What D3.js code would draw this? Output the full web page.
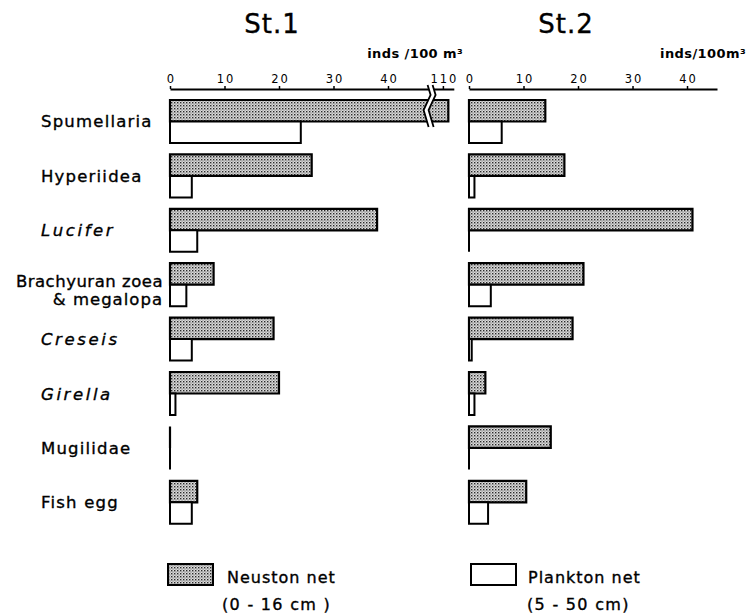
<!DOCTYPE html>
<html>
<head>
<meta charset="utf-8">
<script src="https://cdn.jsdelivr.net/npm/d3@7"></script>
<style>
  html, body { margin: 0; padding: 0; background: #fff; }
  svg { display: block; }
  text { font-family: "DejaVu Sans", sans-serif; fill: #000; }
  text.heavy { stroke: #000; stroke-width: 0.35px; }
</style>
</head>
<body>
<div id="chart"></div>
<script>
// ---- data ----
const categories = ["Spumellaria", "Hyperiidea", "Lucifer", "Brachyuran zoea & megalopa", "Creseis", "Girella", "Mugilidae", "Fish egg"];
const italicCategories = ["Lucifer", "Creseis", "Girella"];
const st1Neuston  = [111, 26, 38, 8, 19, 20, 0, 5];
const st1Plankton = [24, 4, 5, 3, 4, 1, 0, 4];
const st2Neuston  = [14, 17.5, 41, 21, 19, 3, 15, 10.5];
const st2Plankton = [6, 1, 0, 4, 0.5, 1, 0, 3.5];
const st1Ticks = [0, 10, 20, 30, 40, 110];
const st2Ticks = [0, 10, 20, 30, 40];
const seriesNames = ["Neuston net", "Plankton net"];
const seriesDepths = ["(0 - 16 cm )", "(5 - 50 cm)"];

// ---- layout ----
const W = 749, H = 615;
const svg = d3.select("#chart").append("svg").attr("width", W).attr("height", H);

const defs = svg.append("defs");
const pat = defs.append("pattern").attr("id", "stipple")
  .attr("patternUnits", "userSpaceOnUse").attr("width", 3).attr("height", 3);
pat.append("rect").attr("width", 3).attr("height", 3).attr("fill", "#dcdcdc");
pat.append("rect").attr("x", 0).attr("y", 0).attr("width", 1.4).attr("height", 1.4).attr("fill", "#2a2a2a");
pat.append("rect").attr("x", 1.5).attr("y", 1.5).attr("width", 1.1).attr("height", 1.1).attr("fill", "#6a6a6a");

const y = d3.scaleBand().domain(categories).range([100, 100 + 8 * 54.4 - 11.4]).paddingInner(0.21).paddingOuter(0);
const sub = d3.scaleBand().domain(["neuston", "plankton"]).range([0, y.bandwidth()]);

// broken axis for St.1
const x1 = d3.scaleLinear().domain([0, 48, 108, 112]).range([170, 431.6, 432, 453.8]);
const x2 = d3.scaleLinear().domain([0, 45.5]).range([469, 717]);

const axisY = 89;
const panels = [
  { title: "St.1", titleX: 272, x: x1, neuston: st1Neuston, plankton: st1Plankton, ticks: st1Ticks, unit: "inds /100 m³", unitX: 463, brk: 48 },
  { title: "St.2", titleX: 566, x: x2, neuston: st2Neuston, plankton: st2Plankton, ticks: st2Ticks, unit: "inds/100m³", unitX: 746, brk: null }
];

function barPath(x0, x1v, y0, h) {
  return `M${x0},${y0}H${x1v}V${y0 + h}H${x0}Z`;
}

panels.forEach(p => {
  const g = svg.append("g");
  g.append("text").attr("class", "heavy").attr("x", p.titleX).attr("y", 33).attr("text-anchor", "middle")
    .style("font-size", "26px").style("letter-spacing", "1px").text(p.title);
  g.append("text").attr("x", p.unitX).attr("y", 58).attr("text-anchor", "end")
    .style("font-size", "13px").style("font-weight", "bold").style("letter-spacing", "0.4px").text(p.unit);

  const ax = g.append("g").attr("transform", `translate(0,${axisY})`)
    .call(d3.axisTop(p.x).tickValues(p.ticks).tickSize(3).tickSizeOuter(0).tickPadding(3).tickFormat(d3.format("d")));
  ax.attr("font-family", null).attr("font-size", null);
  ax.select(".domain").attr("stroke", "#000").attr("stroke-width", 2);
  ax.selectAll(".tick line").attr("stroke", "#000").attr("stroke-width", 1.5);
  ax.selectAll(".tick text").style("font-size", "11.5px").style("letter-spacing", "2px").attr("dx", "1px");

  // bars
  const rows = categories.map((c, i) => ({ c, n: p.neuston[i], pl: p.plankton[i] }));
  const x0 = p.x(0);
  g.selectAll("path.neu").data(rows).join("path").attr("class", "neu")
    .attr("d", d => barPath(x0, p.x(d.n), y(d.c) + sub("neuston"), sub.bandwidth()))
    .attr("fill", "url(#stipple)").attr("stroke", "#000").attr("stroke-width", 2.2);
  g.selectAll("path.pla").data(rows).join("path").attr("class", "pla")
    .attr("d", d => barPath(x0, p.x(d.pl), y(d.c) + sub("plankton"), sub.bandwidth()))
    .attr("fill", "#fff").attr("stroke", "#000").attr("stroke-width", 2);

  if (p.brk !== null) {
    const bx = p.x(p.brk);
    const ys = [axisY - 4, axisY + 6, axisY + 21, axisY + 38];
    const dxs = [-2, 1, -6, -1];
    const left = ys.map((yy, k) => [bx + dxs[k] - 2, yy]);
    const right = ys.map((yy, k) => [bx + dxs[k] + 3, yy]);
    g.append("path").attr("d", d3.line()(left.concat(right.slice().reverse())) + "Z")
      .attr("fill", "#fff").attr("stroke", "none");
    g.append("path").attr("d", d3.line()(left)).attr("fill", "none").attr("stroke", "#000").attr("stroke-width", 1.8);
    g.append("path").attr("d", d3.line()(right)).attr("fill", "none").attr("stroke", "#000").attr("stroke-width", 1.8);
  }
});

// category labels
const labG = svg.append("g");
categories.forEach(c => {
  const cy = y(c) + y.bandwidth() / 2;
  const italic = italicCategories.includes(c);
  if (c.includes("&")) {
    const parts = c.split(" & ");
    labG.append("text").attr("class", "heavy").attr("x", 163).attr("y", cy + 2).attr("text-anchor", "end")
      .style("font-size", "16.5px").style("letter-spacing", "0.5px").text(parts[0]);
    labG.append("text").attr("class", "heavy").attr("x", 163).attr("y", cy + 20).attr("text-anchor", "end")
      .style("font-size", "16.5px").style("letter-spacing", "1px").text("& " + parts[1]);
  } else {
    labG.append("text").attr("class", "heavy").attr("x", 41).attr("y", cy + 6).attr("text-anchor", "start")
      .style("font-size", "16.5px").style("letter-spacing", italic ? "2.6px" : "1.2px")
      .style("font-style", italic ? "italic" : "normal").text(c);
  }
});

// legend
const legend = [
  { name: seriesNames[0], depth: seriesDepths[0], fill: "url(#stipple)", sx: 168, tx: 227, dx: 222 },
  { name: seriesNames[1], depth: seriesDepths[1], fill: "#fff", sx: 471, tx: 528, dx: 527 }
];
const lg = svg.append("g");
legend.forEach(l => {
  lg.append("rect").attr("x", l.sx).attr("y", 564).attr("width", 45).attr("height", 21)
    .attr("fill", l.fill).attr("stroke", "#000").attr("stroke-width", 2);
  lg.append("text").attr("class", "heavy").attr("x", l.tx).attr("y", 583).style("font-size", "16px").style("letter-spacing", "1px").text(l.name);
  lg.append("text").attr("class", "heavy").attr("x", l.dx).attr("y", 610).style("font-size", "16px").style("letter-spacing", "1.3px").text(l.depth);
});
</script>
</body>
</html>
